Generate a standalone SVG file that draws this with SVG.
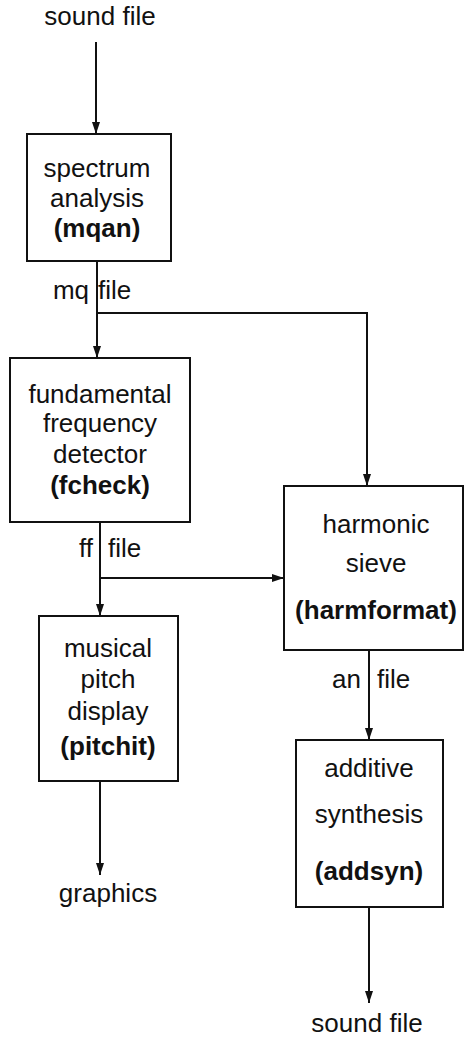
<svg xmlns="http://www.w3.org/2000/svg" width="465" height="1043" viewBox="0 0 465 1043">
<style>
text{font-family:"Liberation Sans",Arial,sans-serif;font-size:26px;fill:#111;text-anchor:middle}
.b{font-weight:bold}
.lbl{text-anchor:start}
.lblr{text-anchor:end}
rect{fill:#fff;stroke:#111;stroke-width:2}
.c line,.c path{fill:none;stroke:#111;stroke-width:2}
</style>
<defs>
<marker id="ah" markerUnits="userSpaceOnUse" markerWidth="12" markerHeight="12" viewBox="0 0 12 12" refX="12" refY="6" orient="auto">
<path d="M0,2 L12,6 L0,10 z" fill="#111"/>
</marker>
</defs>
<rect width="465" height="1043" style="fill:#fff;stroke:none"/>
<g class="c" id="connectors">
<line x1="96" y1="42" x2="96" y2="134" marker-end="url(#ah)"/>
<line x1="97" y1="261" x2="97" y2="358" marker-end="url(#ah)"/>
<path d="M97,313 H367 V486" marker-end="url(#ah)"/>
<line x1="100" y1="522" x2="100" y2="616" marker-end="url(#ah)"/>
<line x1="100" y1="578" x2="284" y2="578" marker-end="url(#ah)"/>
<line x1="100" y1="781" x2="100" y2="875" marker-end="url(#ah)"/>
<line x1="369" y1="650" x2="369" y2="740" marker-end="url(#ah)"/>
<line x1="369" y1="907" x2="369" y2="1003" marker-end="url(#ah)"/>
</g>
<g id="labels">
<text x="100" y="25">sound file</text>
<text class="lblr" x="89" y="299">mq</text>
<text class="lbl" x="98" y="299">file</text>
<text class="lblr" x="93" y="557">ff</text>
<text class="lbl" x="108" y="557">file</text>
<text class="lblr" x="361" y="688">an</text>
<text class="lbl" x="377" y="688">file</text>
<text x="108" y="902">graphics</text>
<text x="367" y="1032">sound file</text>
</g>
<g id="mqan">
<rect x="27" y="134" width="144" height="127"/>
<text x="97" y="177">spectrum</text>
<text x="97" y="207">analysis</text>
<text class="b" x="97" y="237">(mqan)</text>
</g>
<g id="fcheck">
<rect x="10" y="358" width="180" height="164"/>
<text x="100" y="403">fundamental</text>
<text x="100" y="432">frequency</text>
<text x="100" y="463">detector</text>
<text class="b" x="100" y="494">(fcheck)</text>
</g>
<g id="pitchit">
<rect x="39" y="616" width="139" height="165"/>
<text x="108" y="657">musical</text>
<text x="108" y="688">pitch</text>
<text x="108" y="720">display</text>
<text class="b" x="108" y="755">(pitchit)</text>
</g>
<g id="harmformat">
<rect x="284" y="486" width="179" height="164"/>
<text x="376" y="533">harmonic</text>
<text x="376" y="572">sieve</text>
<text class="b" x="376" y="619">(harmformat)</text>
</g>
<g id="addsyn">
<rect x="296" y="740" width="147" height="167"/>
<text x="369" y="777">additive</text>
<text x="369" y="823">synthesis</text>
<text class="b" x="369" y="880">(addsyn)</text>
</g>
</svg>
